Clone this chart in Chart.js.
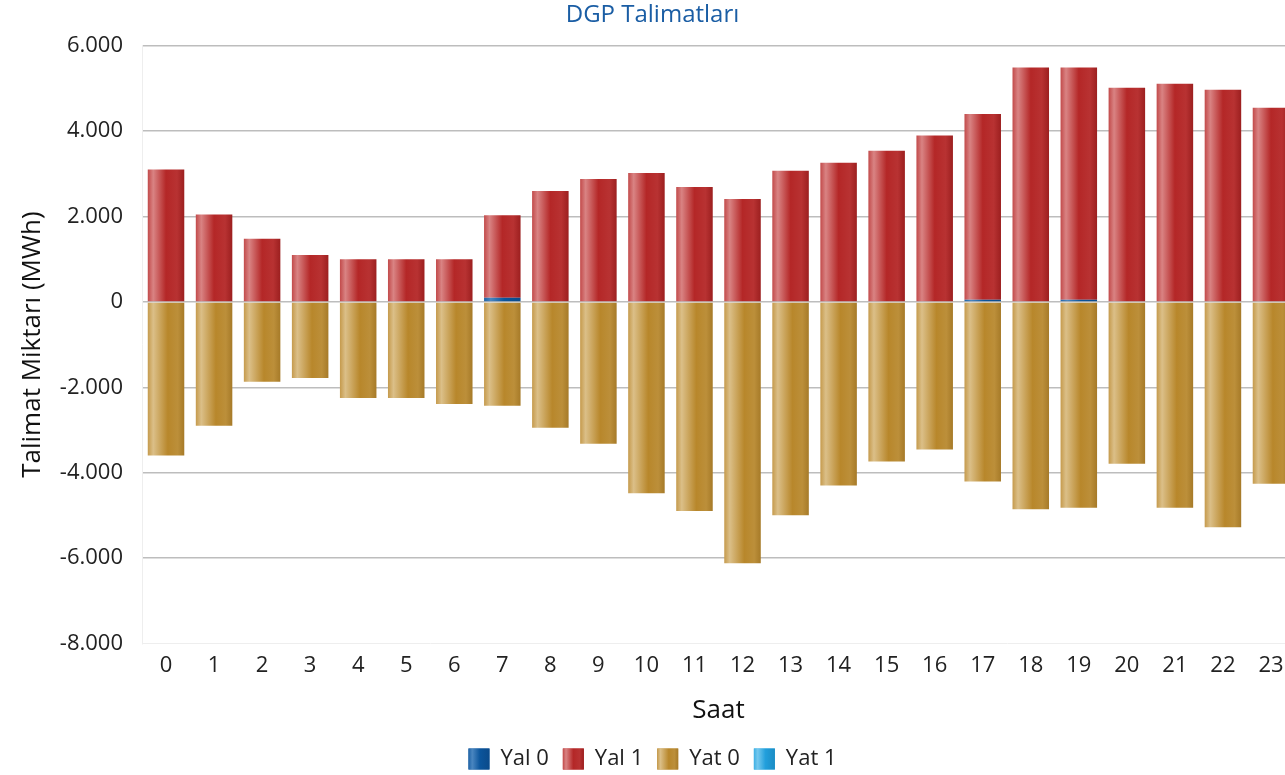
<!DOCTYPE html>
<html>
<head>
<meta charset="utf-8">
<script src="https://cdn.jsdelivr.net/npm/chart.js@4/dist/chart.umd.min.js"></script>
<style>
  html, body { margin: 0; padding: 0; overflow: hidden; background: #fff; }
  #wrap { width: 1295px; height: 782px; position: relative; }
</style>
</head>
<body>
<div id="wrap"><canvas id="chart"></canvas></div>
<script>
const hours = ['0','1','2','3','4','5','6','7','8','9','10','11','12','13','14','15','16','17','18','19','20','21','22','23'];
const yal0 = [0, 0, 0, 0, 0, 0, 0, 100, 0, 0, 0, 0, 0, 0, 0, 0, 0, 50, 0, 50, 0, 0, 0, 0];
const yal1 = [3100, 2050, 1480, 1100, 1000, 1000, 1000, 1930, 2600, 2880, 3020, 2690, 2410, 3070, 3260, 3540, 3900, 4350, 5490, 5440, 5020, 5110, 4970, 4550];
const yat0 = [-3600, -2900, -1870, -1780, -2250, -2250, -2390, -2430, -2950, -3320, -4480, -4900, -6120, -5000, -4300, -3740, -3460, -4210, -4860, -4820, -3790, -4820, -5280, -4260];
const yat1 = [0, 0, 0, 0, 0, 0, 0, 0, 0, 0, 0, 0, 0, 0, 0, 0, 0, 0, 0, 0, 0, 0, 0, 0];

const FONT = "'Open Sans', 'Noto Sans', sans-serif";

// colour stops across each bar, left to right
const palettes = {
  blue: { solid: '#0b559c', stops: [[0, '#1f63a6'], [0.18, '#4a86c0'], [0.55, '#0b559c'], [1, '#0a4a8a']] },
  red: { solid: '#b22222', stops: [[0, '#c24a4a'], [0.15, '#d98383'], [0.5, '#b42727'], [0.8, '#b83232'], [1, '#9c1f1f']] },
  gold: { solid: '#bb8b30', stops: [[0, '#c59a4c'], [0.15, '#dbbf88'], [0.55, '#b8872b'], [0.82, '#bc8f3a'], [1, '#a67a28']] },
  cyan: { solid: '#29a8e0', stops: [[0, '#3fb0e4'], [0.18, '#74c8ee'], [0.55, '#229fdc'], [1, '#1b8cc4']] }
};
const legendPal = [palettes.blue, palettes.red, palettes.gold, palettes.cyan];
const BOX = 21;

function gradient(ctx, x0, x1, pal) {
  const g = ctx.createLinearGradient(x0, 0, x1, 0);
  pal.stops.forEach(s => g.addColorStop(s[0], s[1]));
  return g;
}

function barFill(pal) {
  return (c) => {
    const chart = c.chart;
    const xs = chart.scales.x;
    if (!chart.chartArea || !xs || c.dataIndex === undefined) return pal.solid;
    const cx = xs.getPixelForValue(c.dataIndex);
    const w = (xs.width / hours.length) * 0.76;
    return gradient(chart.ctx, cx - w / 2, cx + w / 2, pal);
  };
}

function fmt(v) {
  const s = Math.abs(v).toString().replace(/\B(?=(\d{3})+(?!\d))/g, '.');
  return (v < 0 ? '-' : '') + s;
}

// repaint legend boxes with the same shading as the bars
const legendShade = {
  id: 'legendShade',
  afterDraw(chart) {
    const lg = chart.legend;
    if (!lg || !lg.legendHitBoxes) return;
    const ctx = chart.ctx;
    lg.legendHitBoxes.forEach((hb, i) => {
      const y = hb.top + (hb.height - BOX) / 2;
      ctx.save();
      ctx.fillStyle = gradient(ctx, hb.left, hb.left + BOX, legendPal[i]);
      ctx.fillRect(hb.left, y, BOX, BOX);
      ctx.restore();
    });
  }
};

new Chart(document.getElementById('chart'), {
  type: 'bar',
  data: {
    labels: hours,
    datasets: [
      { label: 'Yal 0', data: yal0, backgroundColor: barFill(palettes.blue) },
      { label: 'Yal 1', data: yal1, backgroundColor: barFill(palettes.red) },
      { label: 'Yat 0', data: yat0, backgroundColor: barFill(palettes.gold) },
      { label: 'Yat 1', data: yat1, backgroundColor: barFill(palettes.cyan) }
    ]
  },
  plugins: [legendShade],
  options: {
    responsive: true,
    maintainAspectRatio: false,
    animation: false,
    barPercentage: 0.76,
    categoryPercentage: 1,
    layout: { padding: { left: 10, right: 0, top: 0, bottom: 2 } },
    plugins: {
      title: {
        display: true,
        text: 'DGP Talimatları',
        color: '#1a5da4',
        font: { family: FONT, size: 24, weight: 'normal' },
        padding: { top: 1, bottom: 16 }
      },
      legend: {
        position: 'bottom',
        labels: {
          color: '#222',
          font: { family: FONT, size: 22 },
          boxWidth: BOX,
          boxHeight: BOX,
          padding: 14,
          generateLabels: (chart) => chart.data.datasets.map((ds, i) => ({
            text: ds.label,
            fillStyle: legendPal[i].solid,
            strokeStyle: 'transparent',
            lineWidth: 0,
            hidden: !chart.isDatasetVisible(i),
            datasetIndex: i,
            fontColor: '#222'
          }))
        }
      },
      tooltip: { enabled: false }
    },
    scales: {
      x: {
        stacked: true,
        grid: { display: false },
        border: { display: true, color: '#eeeeee' },
        ticks: { color: '#222', font: { family: FONT, size: 22 }, padding: 1 },
        title: { display: true, text: 'Saat', color: '#111', font: { family: FONT, size: 26 }, padding: { top: 15, bottom: 8 } }
      },
      y: {
        stacked: true,
        min: -8000,
        max: 6000,
        afterFit: (s) => { s.width = 132; },
        ticks: { stepSize: 2000, color: '#222', font: { family: FONT, size: 22 }, padding: 19, callback: (v) => fmt(v) },
        grid: {
          color: (c) => (c.tick && c.tick.value === -8000) ? 'rgba(0,0,0,0)' : '#bdbdbd',
          lineWidth: 1.5,
          drawTicks: false
        },
        border: { display: true, color: '#eeeeee' },
        title: { display: true, text: 'Talimat Miktarı (MWh)', color: '#111', font: { family: FONT, size: 26 }, padding: { top: 7, bottom: 11 } }
      }
    }
  }
});
</script>
</body>
</html>
